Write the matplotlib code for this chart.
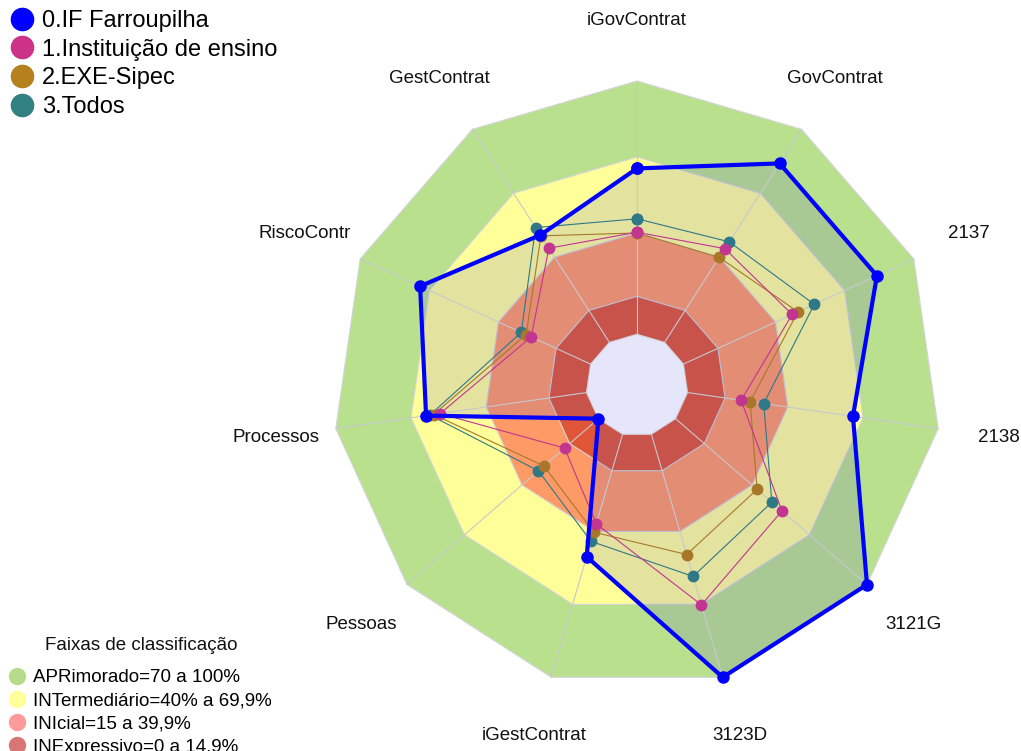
import matplotlib.pyplot as plt
import numpy as np
from matplotlib.lines import Line2D
from matplotlib.patches import Polygon

plt.rcParams["font.family"] = ["Liberation Sans", "DejaVu Sans"]

AXIS_LABELS = [
    "iGovContrat", "GovContrat", "2137", "2138", "3121G", "3123D",
    "iGestContrat", "Pessoas", "Processos", "RiscoContr", "GestContrat",
]

SERIES_NAMES = ["0.IF Farroupilha", "1.Instituição de ensino", "2.EXE-Sipec", "3.Todos"]
IF_FARROUPILHA = [65.5, 84, 84, 66, 100, 100, 50.4, 0, 64, 74, 50.4]
INSTITUICAO = [40.3, 44, 47.2, 21.4, 55.6, 70.2, 36.9, 17.7, 58.4, 25.8, 44.2]
EXE_SIPEC = [40, 39.9, 49.7, 25, 42.6, 49.5, 40.3, 28.5, 61, 28, 50]
TODOS = [45.6, 47.2, 56.8, 30.4, 50.3, 58.5, 44.1, 31.4, 62.5, 30.1, 53.9]

BAND_NAMES = [
    "APRimorado=70 a 100%",
    "INTermediário=40% a 69,9%",
    "INIcial=15 a 39,9%",
    "INExpressivo=0 a 14,9%",
]
BAND_UPPER = [100, 70, 40, 15]

SERIES_COLORS = ["#0000ff", "#c23590", "#a8772a", "#2e7888"]
LEGEND_SERIES_COLORS = ["#0000ff", "#cc3388", "#b5801e", "#338080"]
BAND_COLORS = ["#b9e08c", "#ffff99", "#fe9a66", "#e05535"]
LEGEND_BAND_COLORS = ["#b5dc8a", "#ffff99", "#ff9a9a", "#d87575"]

W, H = 1021, 751
CX, CY, R_OUT, R_HOLE = 637.0, 385.3, 304.3, 51.0
HOLE = R_HOLE / R_OUT

n = len(AXIS_LABELS)
theta = np.pi / 2 - 2 * np.pi * np.arange(n) / n


def to_xy(values):
    r = HOLE + (1 - HOLE) * np.asarray(values, dtype=float) / 100.0
    return r * np.cos(theta), r * np.sin(theta)


fig = plt.figure(figsize=(W / 100, H / 100), dpi=100, facecolor="white")
ax = fig.add_axes([0, 0, 1, 1])
ax.set_xlim(-CX / R_OUT, (W - CX) / R_OUT)
ax.set_ylim(-(H - CY) / R_OUT, CY / R_OUT)
ax.axis("off")

# classification bands
for upper, color in zip(BAND_UPPER, BAND_COLORS):
    bx, by = to_xy([upper] * n)
    ax.add_patch(Polygon(np.column_stack([bx, by]), closed=True, facecolor=color,
                         edgecolor="#d4d4dc", linewidth=0.8, zorder=1))

# translucent fill of the main series
fx, fy = to_xy(IF_FARROUPILHA)
ax.fill(fx, fy, color=(0.30, 0.30, 0.77), alpha=0.157, linewidth=0, zorder=2)

hx, hy = to_xy([0] * n)
ax.add_patch(Polygon(np.column_stack([hx, hy]), closed=True, facecolor="#e6e6fa",
                     edgecolor="#d4d4dc", linewidth=0.8, zorder=3))
ox, oy = to_xy([100] * n)
for i in range(n):
    ax.plot([hx[i], ox[i]], [hy[i], oy[i]], color="#c8c8d0", linewidth=0.8, zorder=3)

series = [IF_FARROUPILHA, INSTITUICAO, EXE_SIPEC, TODOS]
for idx in reversed(range(len(series))):
    sx, sy = to_xy(series[idx])
    sx = np.append(sx, sx[0])
    sy = np.append(sy, sy[0])
    main = idx == 0
    ax.plot(sx, sy, color=SERIES_COLORS[idx], linewidth=3.0 if main else 0.8,
            marker="o", markersize=8 if main else 7.5, zorder=5 + (len(series) - idx))

for i, label in enumerate(AXIS_LABELS):
    ax.text(1.2 * np.cos(theta[i]), 1.2 * np.sin(theta[i]), label, ha="center",
            va="center", fontsize=13.5, color="#111111")

series_handles = [
    Line2D([], [], linestyle="none", marker="o", markersize=16, color=c)
    for c in LEGEND_SERIES_COLORS
]
leg1 = ax.legend(series_handles, SERIES_NAMES, loc="upper left",
                 bbox_to_anchor=(10 / W, 1 - 10 / H), bbox_transform=fig.transFigure,
                 frameon=False, fontsize=17, handlelength=1.0, handletextpad=0.36,
                 labelspacing=0.28, borderpad=0, borderaxespad=0)
ax.add_artist(leg1)

fig.text(141 / W, 1 - 646 / H, "Faixas de classificação", ha="center", va="center",
         fontsize=13.5, color="#111111")
band_handles = [
    Line2D([], [], linestyle="none", marker="o", markersize=11.5, color=c)
    for c in LEGEND_BAND_COLORS
]
ax.legend(band_handles, BAND_NAMES, loc="upper left",
          bbox_to_anchor=(7.6 / W, 1 - 669 / H), bbox_transform=fig.transFigure,
          frameon=False, fontsize=13.5, handlelength=1.0, handletextpad=0.35,
          labelspacing=0.32, borderpad=0, borderaxespad=0)

fig.savefig("out.png", dpi=100, facecolor="white")
